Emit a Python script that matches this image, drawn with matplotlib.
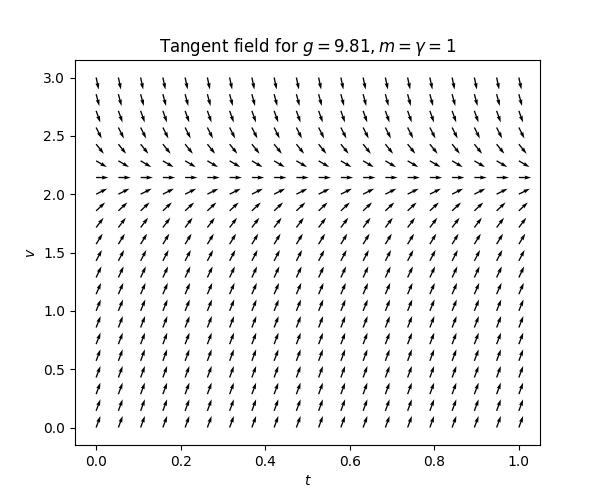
import numpy as np
import matplotlib
matplotlib.use('Agg')
import matplotlib.pyplot as plt

# model parameters (from the title)
g = 9.81
m = 1.0
gamma = 1.0

# grid of the tangent field
t_values = np.linspace(0, 1, 20)
v_values = np.linspace(0, 3, 22)


def slope(v):
    return g - (gamma / m) * v ** 3


T, V = np.meshgrid(t_values, v_values)
dT = np.ones_like(T)
dV = slope(V)
norm = np.sqrt(dT ** 2 + dV ** 2)

fig = plt.figure(figsize=(6, 5), dpi=100)
ax = fig.add_subplot(111)
ax.quiver(T, V, dT / norm, dV / norm, angles='xy')
ax.set_title(r'Tangent field for $g = 9.81, m = \gamma = 1$')
ax.set_xlabel(r'$t$')
ax.set_ylabel(r'$v$')
fig.savefig('out.png', dpi=100)
